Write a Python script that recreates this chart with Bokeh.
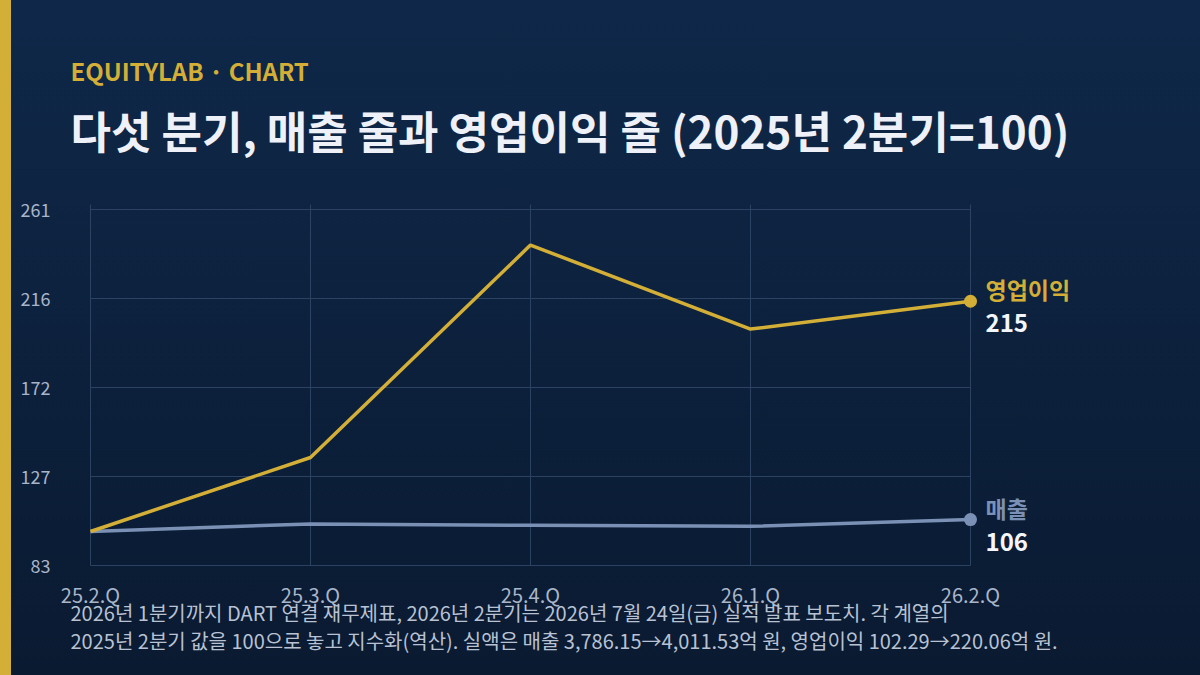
from bokeh.plotting import figure
from bokeh.models import Range1d, FixedTicker, Label, LabelSet, ColumnDataSource
from bokeh.core.properties import value
from bokeh.embed import file_html
from bokeh.resources import INLINE

# 분기별 지수 (2025년 2분기 = 100)
quarters = ["25.2.Q", "25.3.Q", "25.4.Q", "26.1.Q", "26.2.Q"]
sales_idx = [100.0, 103.8, 103.1, 102.6, 105.95]
op_idx = [100.0, 137.0, 243.2, 201.2, 215.13]

y_ticks = [83, 127.5, 172, 216.5, 261]
y_tick_labels = ["83", "127", "172", "216", "261"]
y_top = 263.6

series_names = ["영업이익", "매출"]
series_colors = ["#d4af37", "#7b90b5"]

notes = [
    "2026년 1분기까지 DART 연결 재무제표, 2026년 2분기는 2026년 7월 24일(금) 실적 발표 보도치. 각 계열의",
    "2025년 2분기 값을 100으로 놓고 지수화(역산). 실액은 매출 3,786.15→4,011.53억 원, 영업이익 102.29→220.06억 원.",
]

FONT = "Noto Sans CJK KR"
GOLD = "#d4af37"

W, H = 1200, 675
# 픽셀 배치: 선 구간은 x 90~970, 값 83이 y 565px
X0_PX, X4_PX, YB_PX = 90, 970, 565
FRAME_LEFT = 60
PX_PER_X = (X4_PX - X0_PX) / (len(quarters) - 1)
PX_PER_Y = 2.0


def px_x(px):
    return (px - X0_PX) / PX_PER_X


def px_y(py):
    return y_ticks[0] + (YB_PX - py) / PX_PER_Y


xs = list(range(len(quarters)))

# 프레임을 캔버스 아래/위/오른쪽 끝까지 펼쳐서 제목·주석·끝점 라벨도 프레임 안에 둔다
p = figure(width=W, height=H, output_backend="svg", toolbar_location=None,
           x_range=Range1d(px_x(FRAME_LEFT), px_x(W)), y_range=Range1d(px_y(H), px_y(0)),
           min_border_left=FRAME_LEFT, min_border_right=0, min_border_top=0, min_border_bottom=0)
p.background_fill_alpha = 0
p.border_fill_alpha = 0
p.outline_line_color = None
p.styles = {"background": "linear-gradient(90deg, #d4af37 0px, #d4af37 11px, transparent 11px), "
                          "linear-gradient(180deg, #0f2849 0%, #0a1a31 100%)"}

# 축
p.xaxis.ticker = FixedTicker(ticks=xs)
p.xaxis.major_label_overrides = {i: q for i, q in enumerate(quarters)}
p.yaxis.ticker = FixedTicker(ticks=y_ticks)
p.yaxis.major_label_overrides = dict(zip(y_ticks, y_tick_labels))
for ax in (p.xaxis, p.yaxis):
    ax.axis_line_color = None
    ax.major_tick_line_color = None
    ax.minor_tick_line_color = None
    ax.major_tick_out = 0
    ax.major_tick_in = 0
    ax.major_label_text_font = FONT
    ax.major_label_text_color = "#a9b5c9"
p.yaxis.major_label_text_font_size = "18px"
p.xaxis.major_label_text_font_size = "20px"
p.yaxis.major_label_standoff = 10
# x축은 캔버스 맨 아래에 있으므로 라벨을 위로 끌어올린다
p.xaxis.major_label_standoff = -96

p.grid.grid_line_color = "#2b4263"
p.grid.grid_line_width = 1
p.xgrid.cross_bounds = (y_ticks[0], y_top)
p.ygrid.cross_bounds = (xs[0], xs[-1])

# 선
p.line(xs, sales_idx, line_color=series_colors[1], line_width=3.5)
p.line(xs, op_idx, line_color=series_colors[0], line_width=3.5)
p.scatter([xs[-1]], [sales_idx[-1]], size=13, fill_color=series_colors[1], line_color=None)
p.scatter([xs[-1]], [op_idx[-1]], size=13, fill_color=series_colors[0], line_color=None)

# 끝점 라벨
end_src = ColumnDataSource(dict(
    x=[xs[-1], xs[-1]],
    y=[op_idx[-1], sales_idx[-1]],
    name=series_names,
    val=[str(round(op_idx[-1])), str(round(sales_idx[-1]))],
    color=series_colors,
))
p.add_layout(LabelSet(x="x", y="y", text="name", source=end_src, x_offset=15, y_offset=12,
                      text_color="color", text_font=value(FONT), text_font_size="23px",
                      text_font_style="bold", text_baseline="middle"))
p.add_layout(LabelSet(x="x", y="y", text="val", source=end_src, x_offset=15, y_offset=-22,
                      text_color="#f4f6fb", text_font=value(FONT), text_font_size="24px",
                      text_font_style="bold", text_baseline="middle"))

# 제목
p.add_layout(Label(x=px_x(70), y=px_y(70), text="EQUITYLAB · CHART",
                   text_color=GOLD, text_font=FONT, text_font_size="24px", text_font_style="bold",
                   text_baseline="middle"))
p.add_layout(Label(x=px_x(70), y=px_y(129),
                   text="다섯 분기, 매출 줄과 영업이익 줄 (2025년 2분기=100)",
                   text_color="#eef1f8", text_font=FONT, text_font_size="44px", text_font_style="bold",
                   text_baseline="middle"))

# 주석
for i, note in enumerate(notes):
    p.add_layout(Label(x=px_x(70), y=px_y(612 + 28 * i), text=note,
                       text_color="#b8c2d3", text_font=FONT, text_font_size="20px",
                       text_baseline="middle"))

open("out.html", "w").write(file_html(p, INLINE))
